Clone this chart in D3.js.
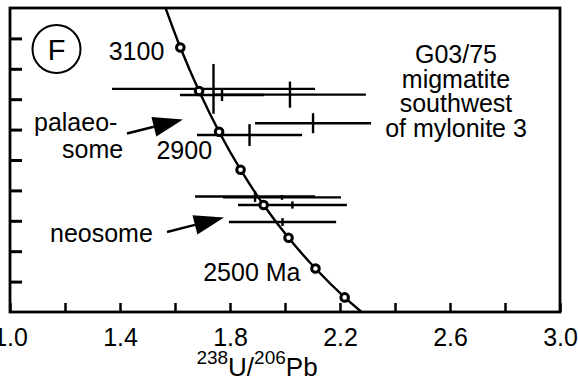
<!DOCTYPE html>
<html>
<head>
<meta charset="utf-8">
<script src="https://cdn.jsdelivr.net/npm/d3@7/dist/d3.min.js"></script>
<style>
  html, body { margin: 0; padding: 0; background: #fff; }
  svg { display: block; font-family: "Liberation Sans", Arial, Helvetica, sans-serif; }
</style>
</head>
<body>
<svg id="chart" width="578" height="381"></svg>
<script>
// ---- Data ----
const xTicks = [1.0, 1.2, 1.4, 1.6, 1.8, 2.0, 2.2, 2.4, 2.6, 2.8, 3.0];
const xTickLabels = [1.0, 1.4, 1.8, 2.2, 2.6, 3.0];
const yTicks = [0.16, 0.17, 0.18, 0.19, 0.20, 0.21, 0.22, 0.23, 0.24];

// concordia curve (age in Ma, 238U/206Pb, 207Pb/206Pb)
const concordiaAge = [3200, 3100, 3000, 2900, 2800, 2700, 2600, 2500, 2400, 2300];
const concordiaX = [1.5557, 1.6194, 1.6875, 1.7603, 1.8384, 1.9224, 2.0129, 2.1108, 2.2170, 2.3325];
const concordiaY = [0.2525, 0.2370, 0.2227, 0.2093, 0.1968, 0.1852, 0.1744, 0.1643, 0.1548, 0.1460];
const markerAges = [3100, 3000, 2900, 2800, 2700, 2600, 2500, 2400];
const ageLabels = [
  {age: 3100, text: "3100"},
  {age: 2900, text: "2900"},
  {age: 2500, text: "2500 Ma"}
];

// palaeosome analyses
const palX    = [1.740, 1.771, 2.018, 2.102, 1.871];
const palY    = [0.2234, 0.2214, 0.2215, 0.2121, 0.2082];
const palXerr = [0.369, 0.153, 0.276, 0.211, 0.191];
const palYerr = [0.0082, 0.0020, 0.0043, 0.0033, 0.0036];

// neosome analyses
const neoX    = [1.891, 1.989, 2.027, 1.991];
const neoY    = [0.1880, 0.1877, 0.1852, 0.1796];
const neoXerr = [0.218, 0.2145, 0.198, 0.195];
const neoYerr = [0.0018, 0.0008, 0.0012, 0.0013];

// ---- Layout ----
const svg = d3.select("#chart");
const pL = 10, pR = 560, pT = 8, pB = 312;
const FS = 25;
const x = d3.scaleLinear().domain([1.0, 3.0]).range([pL, pR]);
const y = d3.scaleLinear().domain([0.15, 0.25]).range([pB, pT]);

// clip
svg.append("defs").append("clipPath").attr("id", "plot")
  .append("rect").attr("x", pL).attr("y", pT)
  .attr("width", pR - pL).attr("height", pB - pT);

// x axis
const xAxis = d3.axisBottom(x).tickValues(xTicks)
  .tickSizeInner(-9).tickSizeOuter(0).tickPadding(16)
  .tickFormat(d => xTickLabels.some(v => Math.abs(v - d) < 1e-9) ? d3.format(".1f")(d) : "");
const gx = svg.append("g").attr("transform", `translate(0,${pB})`).call(xAxis);
gx.select(".domain").remove();
gx.selectAll(".tick line").attr("stroke", "#000").attr("stroke-width", 2.5);
gx.selectAll(".tick text").attr("font-size", FS).attr("fill", "#000")
  .attr("font-family", "'Liberation Sans', Arial, sans-serif");

// y axis
const yAxis = d3.axisLeft(y).tickValues(yTicks).tickSizeInner(-12).tickSizeOuter(0).tickFormat("");
const gy = svg.append("g").attr("transform", `translate(${pL},0)`).call(yAxis);
gy.select(".domain").remove();
gy.selectAll(".tick line").attr("stroke", "#000").attr("stroke-width", 3);

// frame
svg.append("rect").attr("x", pL).attr("y", pT)
  .attr("width", pR - pL).attr("height", pB - pT)
  .attr("fill", "none").attr("stroke", "#000").attr("stroke-width", 2.8);

// error crosses
function drawCrosses(X, Y, XE, YE) {
  const g = svg.append("g").attr("clip-path", "url(#plot)")
    .attr("stroke", "#000").attr("stroke-width", 2.4);
  X.forEach((xv, i) => {
    g.append("line").attr("x1", x(xv - XE[i])).attr("x2", x(xv + XE[i]))
      .attr("y1", y(Y[i])).attr("y2", y(Y[i]));
    g.append("line").attr("x1", x(xv)).attr("x2", x(xv))
      .attr("y1", y(Y[i] - YE[i])).attr("y2", y(Y[i] + YE[i]));
  });
}
drawCrosses(palX, palY, palXerr, palYerr);
drawCrosses(neoX, neoY, neoXerr, neoYerr);

// concordia
const conc = concordiaAge.map((a, i) => ({age: a, x: concordiaX[i], y: concordiaY[i]}));
svg.append("path").datum(conc).attr("clip-path", "url(#plot)")
  .attr("fill", "none").attr("stroke", "#000").attr("stroke-width", 2.4)
  .attr("d", d3.line().x(d => x(d.x)).y(d => y(d.y)).curve(d3.curveCatmullRom));
svg.append("g").selectAll("circle")
  .data(conc.filter(d => markerAges.includes(d.age)))
  .join("circle")
  .attr("cx", d => x(d.x)).attr("cy", d => y(d.y)).attr("r", 3.8)
  .attr("fill", "#fff").attr("stroke", "#000").attr("stroke-width", 3);

// age labels
const labelOffsets = {3100: [-16, 12], 2900: [-7, 27], 2500: [-15, 12]};
ageLabels.forEach(l => {
  const d = conc.find(c => c.age === l.age);
  svg.append("text").attr("x", x(d.x) + labelOffsets[l.age][0])
    .attr("y", y(d.y) + labelOffsets[l.age][1])
    .attr("text-anchor", "end").attr("font-size", FS).text(l.text);
});

// panel letter
svg.append("circle").attr("cx", 56.5).attr("cy", 49).attr("r", 24)
  .attr("fill", "none").attr("stroke", "#000").attr("stroke-width", 2);
svg.append("text").attr("x", 56.5).attr("y", 59.5).attr("text-anchor", "middle")
  .attr("font-size", 29).text("F");

// sample description
const desc = ["G03/75", "migmatite", "southwest", "of mylonite 3"];
svg.append("g").attr("text-anchor", "middle").attr("font-size", FS)
  .selectAll("text").data(desc).join("text")
  .attr("x", 456).attr("y", (d, i) => 63 + i * 24.7).text(d => d);

// group labels
svg.append("text").attr("x", 34).attr("y", 131).attr("font-size", FS).text("palaeo-");
svg.append("text").attr("x", 62).attr("y", 158).attr("font-size", FS).text("some");
svg.append("text").attr("x", 50).attr("y", 241.5).attr("font-size", FS).text("neosome");

// arrows
function arrow(x0, y0, x1, y1, len, halfW) {
  const ang = Math.atan2(y1 - y0, x1 - x0);
  const bx = x1 - len * Math.cos(ang), by = y1 - len * Math.sin(ang);
  const px = -Math.sin(ang) * halfW, py = Math.cos(ang) * halfW;
  svg.append("line").attr("x1", x0).attr("y1", y0).attr("x2", bx).attr("y2", by)
    .attr("stroke", "#000").attr("stroke-width", 2.5);
  svg.append("path")
    .attr("d", `M${x1},${y1}L${bx + px},${by + py}L${bx - px},${by - py}Z`)
    .attr("fill", "#000");
}
arrow(127, 133.5, 183, 119.5, 30, 10);
arrow(167, 232, 224, 217.5, 30, 10);

// x axis title
const t = svg.append("text").attr("x", 257).attr("y", 376).attr("text-anchor", "middle")
  .attr("font-size", 26);
t.append("tspan").attr("font-size", 19).attr("dy", -12).text("238");
t.append("tspan").attr("dy", 12).text("U/");
t.append("tspan").attr("font-size", 19).attr("dy", -12).text("206");
t.append("tspan").attr("dy", 12).text("Pb");
</script>
</body>
</html>
